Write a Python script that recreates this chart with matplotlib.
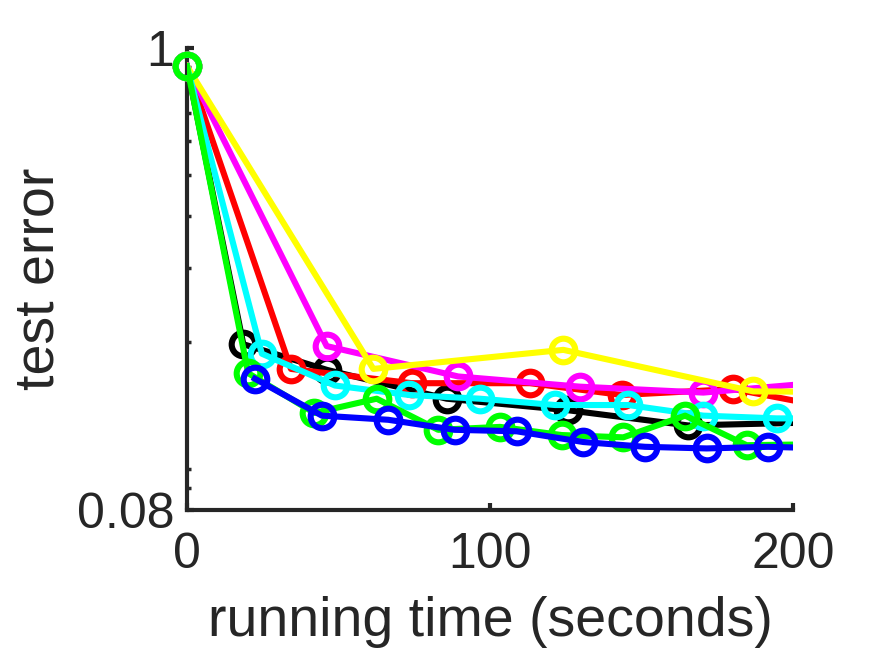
import numpy as np
import matplotlib
matplotlib.use('Agg')
import matplotlib.pyplot as plt
from matplotlib.ticker import FixedLocator, NullFormatter

# 読み取った値 (x: 秒, y: test error)
# 最後の点は x=200 の外側 (軸で切れている)
black_t = [0, 18.6, 46.3, 85.7, 125.8, 165.4, 205]
black_e = [0.905, 0.198, 0.172, 0.147, 0.138, 0.127, 0.129]

red_t = [0, 34.3, 74.2, 113.2, 143.5, 180.3, 217]
red_e = [0.905, 0.173, 0.160, 0.160, 0.150, 0.155, 0.138]

magenta_t = [0, 46.1, 89.5, 129.7, 170.4, 211]
magenta_e = [0.905, 0.196, 0.166, 0.157, 0.152, 0.161]

yellow_t = [0, 61.5, 124.2, 186.9, 250]
yellow_e = [0.905, 0.173, 0.192, 0.153, 0.152]

cyan_t = [0, 24.7, 48.8, 73.3, 96.7, 121.5, 145.6, 170.4, 194.6, 219]
cyan_e = [0.905, 0.188, 0.158, 0.150, 0.147, 0.142, 0.142, 0.134, 0.132, 0.132]

green_t = [0, 20.2, 42.0, 62.6, 82.9, 103.3, 123.7, 144.0, 164.4, 184.7, 205]
green_e = [0.905, 0.169, 0.136, 0.147, 0.124, 0.126, 0.1205, 0.119, 0.134, 0.114, 0.1145]

blue_t = [22.4, 44.5, 66.4, 88.4, 108.8, 130.8, 151.2, 171.5, 191.8, 212]
blue_e = [0.164, 0.134, 0.131, 0.124, 0.123, 0.116, 0.113, 0.112, 0.113, 0.112]

series = [
    (black_t, black_e, '#000000'),
    (red_t, red_e, '#ff0000'),
    (magenta_t, magenta_e, '#ff00ff'),
    (yellow_t, yellow_e, '#ffff00'),
    (cyan_t, cyan_e, '#00ffff'),
    (green_t, green_e, '#00ff00'),
    (blue_t, blue_e, '#0000ff'),
]

axcol = '#262626'
plt.rcParams['font.family'] = ['Liberation Sans', 'DejaVu Sans']

fig = plt.figure(figsize=(8.75, 6.56), dpi=100)
ax = fig.add_axes([0.2137, 0.2226, 0.6926, 0.7042])

XMAX = 200
for i, (t, e, c) in enumerate(series):
    t = np.array(t)
    e = np.array(e)
    ax.plot(t, e, '-', color=c, lw=4.4, zorder=3 + i)
    # 軸内の点だけマーカーを描く (はみ出しは切らない)
    keep = t <= XMAX
    ax.plot(t[keep], e[keep], 'o', color=c, mfc='none', ms=17, mew=4.4,
            clip_on=False, zorder=3 + i)

ax.set_yscale('log')
ax.set_xlim(0, XMAX)
ax.set_ylim(0.08, 1)
ax.set_xticks([0, 100, 200])
ax.yaxis.set_major_locator(FixedLocator([0.08, 1]))
ax.set_yticklabels(['0.08', '1'])
ax.yaxis.set_minor_locator(FixedLocator([0.09, 0.1, 0.2, 0.3, 0.4, 0.5, 0.6, 0.7, 0.8, 0.9]))
ax.yaxis.set_minor_formatter(NullFormatter())

for s in ['top', 'right']:
    ax.spines[s].set_visible(False)
for s in ['left', 'bottom']:
    ax.spines[s].set_linewidth(3)
    ax.spines[s].set_color(axcol)

ax.tick_params(which='major', direction='in', length=5, width=3, colors=axcol,
               labelsize=36)
ax.tick_params(axis='x', which='major', pad=16)
ax.tick_params(axis='y', which='major', pad=9)
ax.tick_params(which='minor', direction='in', length=3, width=2.5, colors=axcol)

ax.set_xlabel('running time (seconds)', fontsize=40, color=axcol, labelpad=13)
ax.set_ylabel('test error', fontsize=40, color=axcol, labelpad=8)

fig.savefig('out.png', dpi=100)
